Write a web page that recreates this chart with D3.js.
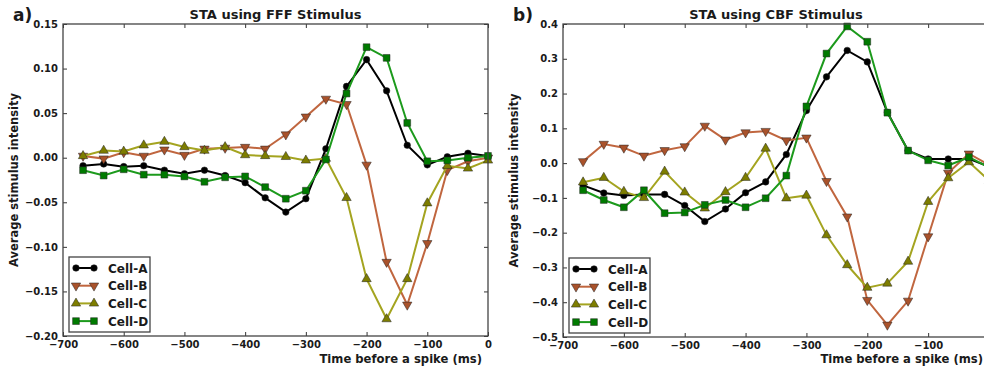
<!DOCTYPE html>
<html>
<head>
    <meta charset="utf-8">
    <title>STA</title>
    <script src="https://cdnjs.cloudflare.com/ajax/libs/d3/7.8.5/d3.min.js"></script>
    <style>
        body { margin: 0; background: white; }
        svg { display: block; overflow: hidden; }
        text { font-family: "DejaVu Sans", sans-serif; font-weight: bold; fill: #1a1a1a; }
        .tick text { font-size: 10px; }
        .tick line { stroke: #333; }
    </style>
</head>
<body>
    <div id="chart"></div>
    <script>
        // time bins (ms before spike)
        const times = [-667, -633, -600, -567, -533, -500, -467, -433, -400, -367, -333,
                       -300, -267, -233, -200, -167, -133, -100, -67, -33, 0];
        const cells = ["Cell-A", "Cell-B", "Cell-C", "Cell-D"];

        // panel a) FFF stimulus
        const fffA = [-0.009, -0.007, -0.010, -0.009, -0.014, -0.018, -0.014, -0.020, -0.028, -0.045, -0.061,
                      -0.046, 0.010, 0.080, 0.110, 0.075, 0.014, -0.008, 0.001, 0.005, 0.002];
        const fffB = [0.002, -0.001, 0.006, 0.002, 0.009, 0.003, 0.010, 0.011, 0.012, 0.010, 0.026,
                      0.046, 0.066, 0.060, -0.008, -0.117, -0.165, -0.096, -0.014, -0.004, 0.000];
        const fffC = [0.002, 0.008, 0.007, 0.014, 0.018, 0.012, 0.008, 0.012, 0.003, 0.002, 0.001,
                      -0.003, -0.001, -0.045, -0.136, -0.181, -0.136, -0.051, -0.009, -0.012, -0.003];
        const fffD = [-0.014, -0.020, -0.013, -0.019, -0.019, -0.021, -0.027, -0.022, -0.021, -0.033, -0.046,
                      -0.037, -0.002, 0.072, 0.124, 0.112, 0.039, -0.004, -0.003, 0.000, 0.002];

        // panel b) CBF stimulus
        const cbfA = [-0.064, -0.086, -0.093, -0.090, -0.090, -0.122, -0.168, -0.132, -0.085, -0.054, 0.025,
                      0.151, 0.248, 0.324, 0.291, 0.146, 0.036, 0.012, 0.012, 0.012, -0.010];
        const cbfB = [0.005, 0.055, 0.044, 0.021, 0.037, 0.048, 0.107, 0.067, 0.088, 0.092, 0.065,
                      0.073, -0.052, -0.154, -0.394, -0.465, -0.396, -0.211, -0.028, 0.027, -0.005];
        const cbfC = [-0.055, -0.042, -0.082, -0.100, -0.024, -0.084, -0.130, -0.083, -0.042, 0.042, -0.101,
                      -0.093, -0.207, -0.293, -0.358, -0.346, -0.283, -0.111, -0.043, 0.003, -0.050];
        const cbfD = [-0.078, -0.106, -0.127, -0.078, -0.144, -0.142, -0.120, -0.106, -0.127, -0.101, -0.036,
                      0.163, 0.315, 0.393, 0.349, 0.145, 0.036, 0.008, -0.007, 0.017, -0.012];

        const xTicks = [-700, -600, -500, -400, -300, -200, -100, 0];
        const fffTicks = [0.15, 0.10, 0.05, 0.00, -0.05, -0.10, -0.15, -0.20];
        const cbfTicks = [0.4, 0.3, 0.2, 0.1, 0.0, -0.1, -0.2, -0.3, -0.4, -0.5];

        const styles = [
            { line: "#000000", fill: "#000000", shape: d3.symbolCircle, size: 34, rot: 0 },
            { line: "#c0663f", fill: "#a9522b", shape: d3.symbolTriangle, size: 38, rot: 180 },
            { line: "#a4a420", fill: "#7d7d00", shape: d3.symbolTriangle, size: 38, rot: 0 },
            { line: "#1c9a1c", fill: "#007a00", shape: d3.symbolSquare, size: 46, rot: 0 }
        ];

        const svg = d3.select("#chart").append("svg")
            .attr("width", 984)
            .attr("height", 368);

        const minus = s => s.replace("-", "\u2212");

        function drawPanel(p) {
            const x = d3.scaleLinear().domain([-700, 0]).range([p.x0, p.x1]);
            const y = d3.scaleLinear().domain(p.yDomain).range([p.y1, p.y0]);
            const g = svg.append("g");

            // panel letter and title
            g.append("text").attr("x", p.x0 - 50).attr("y", 21)
                .style("font-size", "17px").text(p.letter);
            g.append("text").attr("x", (p.x0 + p.x1) / 2).attr("y", 19)
                .attr("text-anchor", "middle").style("font-size", "13px").text(p.title);

            // axes with inward ticks
            g.append("g").attr("transform", `translate(0,${p.y1})`)
                .call(d3.axisBottom(x).tickValues(xTicks).tickSize(-4).tickPadding(5)
                    .tickFormat(d => (x(d) > 975 ? "" : minus(d3.format("d")(d)))))
                .call(a => a.select(".domain").remove());
            g.append("g").attr("transform", `translate(0,${p.y0})`)
                .call(d3.axisTop(x).tickValues(xTicks).tickSize(-4).tickFormat(""))
                .call(a => a.select(".domain").remove());
            g.append("g").attr("transform", `translate(${p.x0},0)`)
                .call(d3.axisLeft(y).tickValues(p.yTicks).tickSize(-4).tickPadding(5)
                    .tickFormat(d => minus(d3.format(p.fmt)(d))))
                .call(a => a.select(".domain").remove());
            g.append("g").attr("transform", `translate(${p.x1},0)`)
                .call(d3.axisRight(y).tickValues(p.yTicks).tickSize(-4).tickFormat(""))
                .call(a => a.select(".domain").remove());
            g.selectAll(".tick text").style("font-size", "10px").attr("fill", "#1a1a1a");

            // series
            const line = d3.line().x((d, i) => x(times[i])).y(d => y(d));
            p.series.forEach((vals, k) => {
                const st = styles[k];
                g.append("path").datum(vals)
                    .attr("fill", "none").attr("stroke", st.line)
                    .attr("stroke-width", 2).attr("d", line);
                g.selectAll(null).data(vals).enter().append("path")
                    .attr("d", d3.symbol().type(st.shape).size(st.size))
                    .attr("transform", (d, i) => `translate(${x(times[i])},${y(d)}) rotate(${st.rot})`)
                    .attr("fill", st.fill).attr("stroke", "#222").attr("stroke-width", 0.5);
            });

            // frame
            g.append("rect").attr("x", p.x0).attr("y", p.y0)
                .attr("width", p.x1 - p.x0).attr("height", p.y1 - p.y0)
                .attr("fill", "none").attr("stroke", "#444").attr("stroke-width", 1.3);

            // axis labels
            g.append("text").attr("x", p.x1 - 6).attr("y", 363)
                .attr("text-anchor", "end").style("font-size", "11.6px")
                .text("Time before a spike (ms)");
            g.append("text")
                .attr("transform", `translate(${p.x0 - 45},${(p.y0 + p.y1) / 2}) rotate(-90)`)
                .attr("text-anchor", "middle").style("font-size", "11.5px")
                .text("Average stimulus intensity");

            // legend
            const lx = p.x0 + 6, ly = p.y1 - 79;
            const lg = g.append("g").attr("transform", `translate(${lx},${ly})`);
            lg.append("rect").attr("width", 81).attr("height", 75)
                .attr("fill", "white").attr("stroke", "#444").attr("stroke-width", 1.3);
            cells.forEach((c, k) => {
                const st = styles[k];
                const ry = 11 + k * 17.7;
                lg.append("line").attr("x1", 7).attr("x2", 25).attr("y1", ry).attr("y2", ry)
                    .attr("stroke", st.line).attr("stroke-width", 2);
                [7, 25].forEach(mx => {
                    lg.append("path").attr("d", d3.symbol().type(st.shape).size(st.size))
                        .attr("transform", `translate(${mx},${ry}) rotate(${st.rot})`)
                        .attr("fill", st.fill).attr("stroke", "#222").attr("stroke-width", 0.5);
                });
                lg.append("text").attr("x", 39).attr("y", ry + 4.5)
                    .style("font-size", "12px").text(c);
            });
        }

        drawPanel({
            letter: "a)", title: "STA using FFF Stimulus",
            x0: 63, x1: 488, y0: 24, y1: 336,
            yDomain: [-0.20, 0.15], yTicks: fffTicks, fmt: ".2f",
            series: [fffA, fffB, fffC, fffD]
        });
        drawPanel({
            letter: "b)", title: "STA using CBF Stimulus",
            x0: 563, x1: 989, y0: 24, y1: 337,
            yDomain: [-0.5, 0.4], yTicks: cbfTicks, fmt: ".1f",
            series: [cbfA, cbfB, cbfC, cbfD]
        });
    </script>
</body>
</html>
